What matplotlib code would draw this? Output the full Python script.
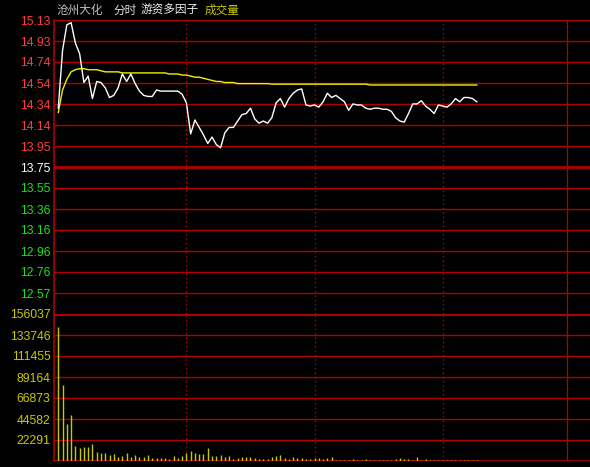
import numpy as np
import matplotlib
matplotlib.use("Agg")
import matplotlib.pyplot as plt

# intraday data, one sample every 2 minutes from 9:30
prev_close = 13.75
price_labels = ["15.13", "14.93", "14.74", "14.54", "14.34", "14.14", "13.95",
                "13.75", "13.55", "13.36", "13.16", "12.96", "12.76", "12.57"]
vol_labels = ["156037", "133746", "111455", "89164", "66873", "44582", "22291"]
vol_step = 22291

price = [14.30, 14.84, 15.08, 15.10, 14.91, 14.81, 14.54, 14.60, 14.39, 14.55,
         14.54, 14.49, 14.40, 14.42, 14.49, 14.62, 14.55, 14.62, 14.53, 14.46,
         14.42, 14.41, 14.41, 14.47, 14.46, 14.46, 14.46, 14.46, 14.46, 14.43,
         14.35, 14.06, 14.19, 14.12, 14.05, 13.97, 14.03, 13.96, 13.93, 14.07,
         14.12, 14.12, 14.18, 14.24, 14.25, 14.30, 14.20, 14.16, 14.18, 14.16,
         14.21, 14.35, 14.39, 14.31, 14.39, 14.44, 14.47, 14.48, 14.33, 14.32,
         14.33, 14.31, 14.36, 14.44, 14.40, 14.42, 14.39, 14.36, 14.28, 14.34,
         14.33, 14.33, 14.30, 14.29, 14.30, 14.30, 14.29, 14.29, 14.27, 14.21,
         14.18, 14.17, 14.25, 14.34, 14.34, 14.37, 14.32, 14.29, 14.25, 14.33,
         14.32, 14.31, 14.34, 14.39, 14.36, 14.40, 14.40, 14.39, 14.36]

avg_price = [14.26, 14.47, 14.57, 14.64, 14.66, 14.67, 14.67, 14.66, 14.66, 14.66,
             14.65, 14.64, 14.64, 14.64, 14.64, 14.63, 14.63, 14.63, 14.63, 14.63,
             14.63, 14.63, 14.63, 14.63, 14.63, 14.63, 14.62, 14.62, 14.62, 14.61,
             14.61, 14.60, 14.59, 14.59, 14.58, 14.57, 14.56, 14.55, 14.55, 14.54,
             14.54, 14.54, 14.53, 14.53, 14.53, 14.53, 14.53, 14.53, 14.53, 14.53,
             14.525, 14.525, 14.525, 14.525, 14.525, 14.525, 14.525, 14.525, 14.525, 14.525,
             14.525, 14.525, 14.525, 14.525, 14.525, 14.525, 14.525, 14.525, 14.525, 14.525,
             14.525, 14.525, 14.525, 14.517, 14.517, 14.517, 14.517, 14.517, 14.517, 14.517,
             14.517, 14.517, 14.517, 14.517, 14.517, 14.517, 14.517, 14.517, 14.517, 14.517,
             14.517, 14.517, 14.517, 14.517, 14.517, 14.517, 14.517, 14.517, 14.517]

volume = [142000, 80700, 39300, 48800, 15900, 13800, 14900, 14900, 18000, 9550,
          8500, 8500, 6400, 7400, 4250, 5300, 8500, 4250, 6400, 4250,
          4250, 6400, 3200, 3200, 3200, 3200, 2100, 5300, 3200, 5300,
          8500, 10600, 8500, 7400, 7400, 13800, 5300, 5300, 6400, 4250,
          5300, 2100, 3200, 4250, 4250, 4600, 3500, 2500, 2500, 2500,
          4600, 5700, 6700, 3500, 2500, 4600, 3500, 3500, 2500, 2500,
          3500, 3500, 2500, 3500, 4600, 1400, 1400, 1400, 1400, 2500,
          1400, 1400, 2500, 1400, 1400, 1400, 1400, 1400, 1400, 2500,
          3500, 2500, 2500, 1400, 4600, 1400, 2500, 1400, 1400, 1400,
          1400, 1400, 1400, 1400, 1400, 1400, 1400, 1400, 1400]

minutes = np.arange(len(price)) * 2
hour_marks = [60, 120, 180]

RED = "#b00000"
W, H = 590, 467
fig = plt.figure(figsize=(W / 100, H / 100), dpi=100, facecolor="black")

x0, x1 = 54, 590
ax = fig.add_axes([x0 / W, (H - 314) / H, (x1 - x0) / W, (314 - 20) / H])
axv = fig.add_axes([x0 / W, (H - 461) / H, (x1 - x0) / W, (461 - 314) / H])

tick_font = dict(family="Liberation Sans", size=8.8)

step = prev_close * 0.1 / 7
price_ticks = prev_close + step * np.arange(7, -7, -1)
for a in (ax, axv):
    a.set_facecolor("black")
    a.set_xlim(-2, 249)
    a.set_xticks([])
    for s in ("top", "right", "bottom"):
        a.spines[s].set_visible(False)
    a.spines["left"].set_color(RED)
    a.spines["left"].set_linewidth(1.2)
    a.tick_params(axis="y", length=0, pad=2.5)
    for m in hour_marks:
        a.axvline(m, color=RED, lw=0.9, ls=(0, (1.3, 2.2)))
    a.plot([0.957, 0.957], [0, 1], transform=a.transAxes, color=RED, lw=0.9)

# price panel
ax.set_ylim(prev_close * 0.9, prev_close * 1.1)
for i, p in enumerate(price_ticks):
    ax.axhline(p, color=RED, lw=2.0 if i == 7 else 1.0)
ax.set_yticks(price_ticks)
ax.set_yticklabels(price_labels, **tick_font)
for i, lab in enumerate(ax.get_yticklabels()):
    lab.set_color("#ff3c3c" if i < 7 else ("white" if i == 7 else "#1ee01e"))
ax.plot(minutes, avg_price, color="#f0f000", lw=1.0, zorder=3)
ax.plot(minutes, price, color="white", lw=1.0, zorder=4)

# volume panel
axv.set_ylim(0, vol_step * 7)
vol_ticks = vol_step * np.arange(7, 0, -1)
for i, v in enumerate(vol_ticks):
    axv.axhline(v, color=RED, lw=2.2 if i == 0 else 1.0)
axv.axhline(0, color=RED, lw=1.2)
axv.set_yticks(vol_ticks)
axv.set_yticklabels(vol_labels, **tick_font)
for lab in axv.get_yticklabels():
    lab.set_color("#c8c800")
axv.vlines(minutes, 0, volume, color="#c8c800", lw=1.0, zorder=3)

# header
cjk = ["Noto Sans CJK SC", "DejaVu Sans"]
for txt, xp, col in [("沧州大化", 57, "#c0c0c0"), ("分时", 113, "#e0e0e0"),
                     ("游资多因子", 141, "#f0f0f0"), ("成交量", 205, "#c8c800")]:
    fig.text(xp / W, 1 - 10 / H, txt, color=col, family=cjk, size=8.4,
             ha="left", va="center")

fig.savefig("out.png", dpi=100, facecolor="black")
